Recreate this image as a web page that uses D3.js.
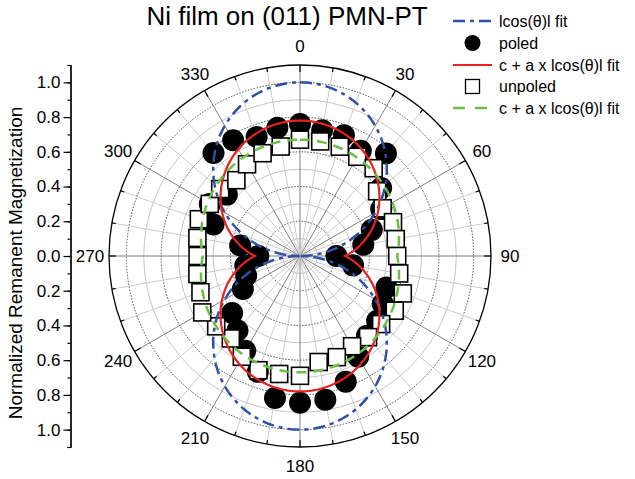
<!DOCTYPE html>
<html>
<head>
<meta charset="utf-8">
<script src="https://cdn.jsdelivr.net/npm/d3@7"></script>
<style>
    body { margin: 0; background: #fff; }
    svg { display: block; font-family: "Liberation Sans", Arial, sans-serif; }
    .ring-minor { fill: none; stroke: #c6c6c6; stroke-width: 1; }
    .ring-major { fill: none; stroke: #4a4a4a; stroke-width: 1; stroke-dasharray: 1.5,1.5; }
    .spoke-minor { stroke: #cccccc; stroke-width: 1; }
    .spoke-major { stroke: #808080; stroke-width: 1; }
    .outer { fill: none; stroke: #000; stroke-width: 1.3; }
    .atick { stroke: #000; stroke-width: 1.2; }
    .axis path, .axis line { stroke: #000; stroke-width: 1.2; }
    .axis text { font-size: 17px; fill: #000; font-family: "Liberation Sans", Arial, sans-serif; }
</style>
</head>
<body>
<div id="chart"></div>
<script>
// angles of measurement (deg, 0 at top, clockwise)
var angleDeg = [0, 10, 20, 30, 40, 50, 60, 70, 80, 90, 100, 110, 120, 130, 140, 150, 160, 170,
    180, 190, 200, 210, 220, 230, 240, 250, 260, 270, 280, 290, 300, 310, 320, 330, 340, 350];

// poled sample, normalized remanent magnetization
var poledR = [0.76, 0.735, 0.74, 0.70, 0.77, 0.61, 0.54, 0.44, 0.37, 0.21, 0.31, 0.53, 0.55, 0.58, 0.60, 0.67, 0.77, 0.84,
    0.845, 0.83, 0.71, 0.63, 0.56, 0.51, 0.38, 0.33, 0.32, 0.24, 0.35, 0.53, 0.60, 0.55, 0.775, 0.77, 0.73, 0.75];

// unpoled sample
var unpoledR = [0.67, 0.67, 0.67, 0.66, 0.66, 0.58, 0.55, 0.57, 0.56, 0.56, 0.58, 0.63, 0.63, 0.61, 0.61, 0.60, 0.62, 0.62,
    0.69, 0.69, 0.70, 0.67, 0.62, 0.63, 0.65, 0.61, 0.60, 0.59, 0.60, 0.62, 0.60, 0.60, 0.57, 0.61, 0.63, 0.64];

// fit parameters [c, a] for r = c + a*|cos(theta)|
var cosFit = [0, 1];
var poledFit = [0.26, 0.52];
var unpoledFit = [0.56, 0.11];

var angleTicks = [0, 30, 60, 90, 120, 150, 180, 210, 240, 270, 300, 330];
var radialTicks = [-1.0, -0.8, -0.6, -0.4, -0.2, 0.0, 0.2, 0.4, 0.6, 0.8, 1.0];

var legendLabels = ["lcos(\u03b8)l fit", "poled", "c + a x lcos(\u03b8)l fit", "unpoled", "c + a x lcos(\u03b8)l fit"];

var width = 635, height = 479
    , cx = 300, cy = 256
    , rMax = 1.1, outerR = 191
    , blue = "#3050a8", red = "#e8231f", green = "#6cbf45";

var svg = d3.select("#chart").append("svg")
    .attr("width", width)
    .attr("height", height);

var r = d3.scaleLinear().domain([0, rMax]).range([0, outerR]);
var rad = function(deg) { return deg * Math.PI / 180; };

var g = svg.append("g").attr("transform", "translate(" + cx + "," + cy + ")");

// rings every 0.1
var rings = d3.range(1, 11).map(function(i) { return i / 10; });
g.selectAll(".ring").data(rings).enter().append("circle")
    .attr("class", function(d, i) { return i % 2 ? "ring-major" : "ring-minor"; })
    .attr("r", function(d) { return r(d); });

// spokes every 10 deg
var spokes = d3.range(0, 360, 10);
g.selectAll(".spoke").data(spokes).enter().append("line")
    .attr("class", function(d) { return d % 30 ? "spoke-minor" : "spoke-major"; })
    .attr("x1", 0).attr("y1", 0)
    .attr("x2", function(d) { return d3.pointRadial(rad(d), outerR)[0]; })
    .attr("y2", function(d) { return d3.pointRadial(rad(d), outerR)[1]; });

g.append("circle").attr("class", "outer").attr("r", outerR);

// ticks on the outer circle
g.selectAll(".atick").data(spokes).enter().append("line")
    .attr("class", "atick")
    .attr("x1", function(d) { return d3.pointRadial(rad(d), outerR - (d % 30 ? 4 : 7))[0]; })
    .attr("y1", function(d) { return d3.pointRadial(rad(d), outerR - (d % 30 ? 4 : 7))[1]; })
    .attr("x2", function(d) { return d3.pointRadial(rad(d), outerR)[0]; })
    .attr("y2", function(d) { return d3.pointRadial(rad(d), outerR)[1]; });

g.selectAll(".alabel").data(angleTicks).enter().append("text")
    .attr("class", "alabel")
    .attr("x", function(d) { return d3.pointRadial(rad(d), 210)[0]; })
    .attr("y", function(d) { return d3.pointRadial(rad(d), 210)[1]; })
    .attr("dy", "0.36em")
    .attr("text-anchor", "middle")
    .style("font-size", "17px")
    .text(function(d) { return d; });

// data points
var poledPts = angleDeg.map(function(a, i) { return d3.pointRadial(rad(a), r(poledR[i])); });
var unpoledPts = angleDeg.map(function(a, i) { return d3.pointRadial(rad(a), r(unpoledR[i])); });

g.selectAll(".poled").data(poledPts).enter().append("circle")
    .attr("class", "poled")
    .attr("cx", function(d) { return d[0]; })
    .attr("cy", function(d) { return d[1]; })
    .attr("r", 11)
    .attr("fill", "#000");

var sq = 17;
g.selectAll(".unpoled").data(unpoledPts).enter().append("rect")
    .attr("class", "unpoled")
    .attr("x", function(d) { return d[0] - sq / 2; })
    .attr("y", function(d) { return d[1] - sq / 2; })
    .attr("width", sq).attr("height", sq)
    .attr("fill", "#fff")
    .attr("stroke", "#000")
    .attr("stroke-width", 1.6);

// fit curves
var fitAngles = d3.range(0, 361, 1);
function fitLine(p) {
    return d3.lineRadial()
        .angle(function(d) { return rad(d); })
        .radius(function(d) { return r(p[0] + p[1] * Math.abs(Math.cos(rad(d)))); })(fitAngles);
}

g.append("path").attr("d", fitLine(cosFit))
    .attr("fill", "none").attr("stroke", blue).attr("stroke-width", 2.5)
    .attr("stroke-dasharray", "12,5,4,5");

g.append("path").attr("d", fitLine(poledFit))
    .attr("fill", "none").attr("stroke", red).attr("stroke-width", 2.2);

g.append("path").attr("d", fitLine(unpoledFit))
    .attr("fill", "none").attr("stroke", green).attr("stroke-width", 2.5)
    .attr("stroke-dasharray", "10,7");

// left radial axis
var y = d3.scaleLinear().domain([-rMax, rMax]).range([cy + outerR, cy - outerR]);

svg.append("g")
    .attr("class", "axis")
    .attr("transform", "translate(70.5,0)")
    .call(d3.axisLeft(y).tickValues(d3.range(-11, 12).map(function(i) { return i / 10; }))
        .tickSize(3).tickFormat(""));

svg.append("g")
    .attr("class", "axis")
    .attr("transform", "translate(70.5,0)")
    .call(d3.axisLeft(y).tickValues(radialTicks).tickSize(7).tickSizeOuter(0).tickPadding(3)
        .tickFormat(function(d) { return d3.format(".1f")(Math.abs(d)); }));

svg.append("text")
    .attr("transform", "translate(22," + 263 + ") rotate(-90)")
    .attr("text-anchor", "middle")
    .style("font-size", "19px")
    .text("Normalized Remanent Magnetization");

svg.append("text")
    .attr("x", 287).attr("y", 25)
    .attr("text-anchor", "middle")
    .style("font-size", "26px")
    .text("Ni film on (011) PMN-PT");

// legend
var legend = svg.append("g").attr("transform", "translate(453,0)");
var rowY = [21, 43, 65, 86.5, 108];

legend.append("line").attr("x1", 0).attr("x2", 39).attr("y1", rowY[0]).attr("y2", rowY[0])
    .attr("stroke", blue).attr("stroke-width", 2.5).attr("stroke-dasharray", "12,5,4,5");
legend.append("circle").attr("cx", 19.5).attr("cy", rowY[1]).attr("r", 8).attr("fill", "#000");
legend.append("line").attr("x1", 0).attr("x2", 39).attr("y1", rowY[2]).attr("y2", rowY[2])
    .attr("stroke", red).attr("stroke-width", 2.2);
legend.append("rect").attr("x", 19.5 - 7).attr("y", rowY[3] - 7).attr("width", 14).attr("height", 14)
    .attr("fill", "#fff").attr("stroke", "#000").attr("stroke-width", 1.3);
legend.append("line").attr("x1", 0).attr("x2", 39).attr("y1", rowY[4]).attr("y2", rowY[4])
    .attr("stroke", green).attr("stroke-width", 2.5).attr("stroke-dasharray", "12,10");

legend.selectAll(".ltext").data(legendLabels).enter().append("text")
    .attr("x", 46)
    .attr("y", function(d, i) { return rowY[i]; })
    .attr("dy", "0.36em")
    .style("font-size", "16px")
    .text(function(d) { return d; });
</script>
</body>
</html>
